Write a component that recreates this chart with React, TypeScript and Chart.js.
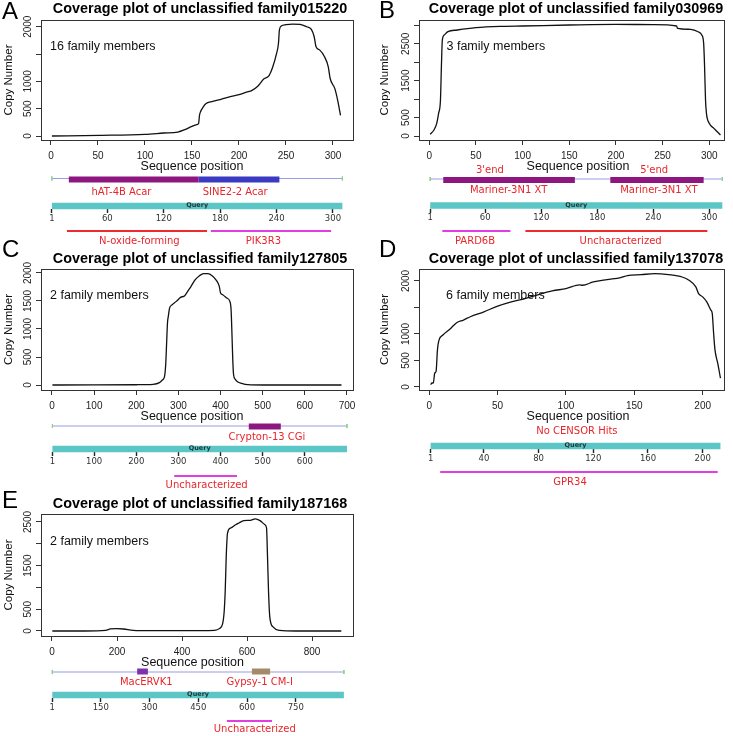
import React, { useEffect, useRef } from 'react';
import { Chart, registerables } from 'chart.js';

Chart.register(...registerables);

/* ======================= DATA ======================= */

// ---- Panel A : unclassified family015220 ----
const titleA = 'Coverage plot of unclassified family015220';
const membersA = '16 family members';
const positionA = [1, 52, 100, 120, 135, 143, 150, 155, 157, 158, 159, 162, 165, 171, 180, 190, 200, 210, 213, 220, 223, 226, 232, 236, 240, 242, 243, 245, 250, 257, 265, 272, 277, 280, 282, 286, 291, 295, 297, 302, 305, 308];
const copyA = [0, 12, 31, 55, 73, 122, 177, 208, 226, 379, 440, 532, 593, 630, 667, 716, 758, 813, 826, 911, 972, 1040, 1107, 1266, 1511, 1694, 1939, 2012, 2037, 2049, 2043, 2000, 1951, 1817, 1633, 1572, 1450, 1266, 1052, 868, 654, 379];
const xTicksA = [0, 50, 100, 150, 200, 250, 300];
const yTicksA = [0, 500, 1000, 1500, 2000];
const yTickLabelsA = ['0', '500', '1000', '', '2000'];
const lengthA = 310;
const censorNameA = ['hAT-4B Acar', 'SINE2-2 Acar'];
const censorStartA = [19, 157];
const censorEndA = [157, 243];
const censorLabelAtA = [75, 196];
const proteinNameA = ['N-oxide-forming', 'PIK3R3'];
const proteinStartA = [17, 170];
const proteinEndA = [166, 298];
const proteinLabelAtA = [94, 226];
const rulerTicksA = [1, 60, 120, 180, 240, 300];

// ---- Panel B : unclassified family030969 ----
const titleB = 'Coverage plot of unclassified family030969';
const membersB = '3 family members';
const positionB = [1, 5, 8, 10, 12, 13, 14, 16, 20, 30, 50, 80, 100, 150, 200, 240, 265, 266, 280, 288, 292, 294, 295, 296, 297, 300, 305, 312];
const copyB = [45, 163, 343, 614, 975, 1879, 2602, 2737, 2827, 2873, 2936, 2972, 2981, 3008, 3026, 3017, 2981, 2918, 2891, 2827, 2737, 2511, 1879, 975, 614, 343, 208, 27];
const xTicksB = [0, 50, 100, 150, 200, 250, 300];
const yTicksB = [0, 500, 1000, 1500, 2000, 2500, 3000];
const yTickLabelsB = ['0', '500', '', '1500', '', '2500', ''];
const lengthB = 314;
const censorNameB = ['Mariner-3N1 XT', 'Mariner-3N1 XT'];
const censorStartB = [15, 194];
const censorEndB = [156, 294];
const censorLabelAtB = [85, 246];
const endNameB = ["3'end", "5'end"];
const endLabelAtB = [65, 241];
const proteinNameB = ['PARD6B', 'Uncharacterized'];
const proteinStartB = [14, 103];
const proteinEndB = [87, 298];
const proteinLabelAtB = [49, 205];
const rulerTicksB = [1, 60, 120, 180, 240, 300];

// ---- Panel C : unclassified family127805 ----
const titleC = 'Coverage plot of unclassified family127805';
const membersC = '2 family members';
const positionC = [1, 100, 200, 240, 255, 262, 267, 270, 272, 274, 276, 279, 285, 295, 305, 315, 322, 330, 340, 350, 360, 370, 380, 390, 397, 400, 405, 415, 422, 425, 427, 429, 431, 435, 440, 450, 465, 500, 600, 687];
const copyC = [0, 2, 5, 12, 42, 90, 150, 388, 746, 1104, 1224, 1373, 1433, 1493, 1564, 1594, 1672, 1761, 1881, 1952, 1988, 1988, 1952, 1869, 1761, 1642, 1612, 1552, 1493, 1343, 925, 448, 179, 101, 60, 30, 6, 0, 0, 0];
const xTicksC = [0, 100, 200, 300, 400, 500, 600, 700];
const yTicksC = [0, 500, 1000, 1500, 2000];
const yTickLabelsC = ['0', '500', '1000', '1500', '2000'];
const lengthC = 700;
const censorNameC = ['Crypton-13 CGi'];
const censorStartC = [467];
const censorEndC = [543];
const censorLabelAtC = [510];
const proteinNameC = ['Uncharacterized'];
const proteinStartC = [290];
const proteinEndC = [439];
const proteinLabelAtC = [367];
const rulerTicksC = [1, 100, 200, 300, 400, 500, 600];

// ---- Panel D : unclassified family137078 ----
const titleD = 'Coverage plot of unclassified family137078';
const membersD = '6 family members';
const positionD = [1, 2, 3, 4, 5, 6, 7, 10, 15, 20, 25, 30, 40, 50, 60, 70, 80, 90, 100, 110, 112, 120, 130, 140, 145, 155, 165, 175, 185, 190, 195, 197, 200, 203, 206, 207, 208, 209, 211, 213];
const copyD = [44, 75, 75, 262, 294, 700, 875, 981, 1088, 1213, 1263, 1325, 1419, 1525, 1606, 1669, 1744, 1813, 1856, 1925, 1919, 1981, 2025, 2063, 2100, 2119, 2138, 2119, 2075, 2013, 1888, 1763, 1700, 1606, 1450, 1388, 1013, 700, 450, 169];
const xTicksD = [0, 50, 100, 150, 200];
const yTicksD = [0, 500, 1000, 1500, 2000];
const yTickLabelsD = ['0', '500', '1000', '', '2000'];
const lengthD = 213;
const noHitsD = 'No CENSOR Hits';
const noHitsAtD = 108;
const proteinNameD = ['GPR34'];
const proteinStartD = [8];
const proteinEndD = [211];
const proteinLabelAtD = [103];
const rulerTicksD = [1, 40, 80, 120, 160, 200];

// ---- Panel E : unclassified family187168 ----
const titleE = 'Coverage plot of unclassified family187168';
const membersE = '2 family members';
const positionE = [1, 100, 165, 180, 200, 220, 250, 300, 400, 500, 515, 525, 530, 533, 536, 540, 550, 565, 575, 590, 610, 625, 640, 655, 660, 663, 666, 670, 680, 700, 750, 890];
const copyE = [0, 0, 15, 46, 54, 46, 15, 8, 8, 15, 54, 169, 477, 938, 1708, 2246, 2362, 2438, 2477, 2531, 2538, 2569, 2531, 2438, 2362, 1708, 938, 323, 92, 15, 0, 0];
const xTicksE = [0, 200, 400, 600, 800];
const yTicksE = [0, 500, 1000, 1500, 2000, 2500];
const yTickLabelsE = ['0', '500', '', '1500', '', '2500'];
const lengthE = 898;
const censorNameE = ['MacERVK1', 'Gypsy-1 CM-I'];
const censorStartE = [262, 615];
const censorEndE = [295, 671];
const censorLabelAtE = [290, 639];
const proteinNameE = ['Uncharacterized'];
const proteinStartE = [538];
const proteinEndE = [677];
const proteinLabelAtE = [624];
const rulerTicksE = [1, 150, 300, 450, 600, 750];

/* ======================= STYLE / LAYOUT ======================= */

const LIB = '"Liberation Sans", Arial, Helvetica, sans-serif';
const DJ = '"DejaVu Sans", Verdana, sans-serif';
const RED = '#e8262b';
const PURPLE = '#8d177f';
const VIOLET = '#7a33ad';
const MAGENTA = '#e23de2';
const LINE_RED = '#ee2a2a';

const layoutA = {
  cov: { x: 0, y: 0, w: 366, h: 178 },
  box: { l: 41, r: 353, t: 20, b: 140 },
  xRange: [-10.6, 321.3], yRange: [-73, 2123],
  letter: [2, 19], title: [200, 12.5], members: [50, 47], seqX: 192, copyDX: -32.5, tickDX: -13,
  track: { x: 0, y: 160, w: 366, h: 92 },
  rows: { censorLine: 178.5, censorBar: 179.5, censorLabel: 192, query: 206, ruler: 209.25, protein: 231, proteinLabel: 241 },
  censorColors: [PURPLE, '#3a3ac2'], proteinColors: [LINE_RED, MAGENTA],
};
const layoutB = {
  cov: { x: 366, y: 0, w: 367, h: 178 },
  box: { l: 419, r: 724, t: 20, b: 140 },
  xRange: [-11.0, 315.8], yRange: [-108, 3144],
  letter: [379, 18], title: [576, 12.5], members: [446.5, 47], seqX: 578, copyDX: -34.5, tickDX: -13,
  track: { x: 366, y: 160, w: 367, h: 92 },
  rows: { endLabel: 170, censorLine: 179, censorBar: 180, censorLabel: 190.5, query: 205.5, ruler: 208.75, protein: 231, proteinLabel: 241 },
  censorColors: [PURPLE, PURPLE], proteinColors: [MAGENTA, LINE_RED],
};
const layoutC = {
  cov: { x: 0, y: 235, w: 366, h: 192 },
  box: { l: 41, r: 353, t: 269, b: 390 },
  xRange: [-26.1, 714.3], yRange: [-89, 2071],
  letter: [2, 257], title: [200, 262.5], members: [50, 296], seqX: 192, copyDX: -32.5, tickDX: -13,
  track: { x: 0, y: 410, w: 366, h: 90 },
  rows: { censorLine: 426, censorBar: 426.5, censorLabel: 437, query: 449, ruler: 452.25, protein: 476, proteinLabel: 485 },
  censorColors: [PURPLE], proteinColors: [MAGENTA],
};
const layoutD = {
  cov: { x: 366, y: 235, w: 367, h: 192 },
  box: { l: 419, r: 724, t: 269, b: 390 },
  xRange: [-7.5, 215.6], yRange: [-57, 2226],
  letter: [379, 257], title: [576, 262.5], members: [446, 296], seqX: 578, copyDX: -34.5, tickDX: -13,
  track: { x: 366, y: 410, w: 367, h: 90 },
  rows: { noHits: 431, query: 446, ruler: 449.25, protein: 472, proteinLabel: 482 },
  censorColors: [], proteinColors: [MAGENTA],
};
const layoutE = {
  cov: { x: 0, y: 480, w: 366, h: 192 },
  box: { l: 41, r: 353, t: 514, b: 636 },
  xRange: [-33.8, 926], yRange: [-115, 2683],
  letter: [2, 508], title: [200, 507.5], members: [50, 541.7], seqX: 192.5, copyDX: -32.5, tickDX: -13,
  track: { x: 0, y: 655, w: 366, h: 81 },
  rows: { censorLine: 672, censorBar: 671.5, censorLabel: 682, query: 695, ruler: 698.25, protein: 721, proteinLabel: 729 },
  censorColors: [VIOLET, '#a58a6a'], proteinColors: [MAGENTA],
};

const PANELS = [
  { d: { letter: 'A', title: titleA, members: membersA, pos: positionA, copy: copyA, xTicks: xTicksA, yTicks: yTicksA, yLabels: yTickLabelsA, length: lengthA,
      censorName: censorNameA, censorStart: censorStartA, censorEnd: censorEndA, censorLabelAt: censorLabelAtA,
      proteinName: proteinNameA, proteinStart: proteinStartA, proteinEnd: proteinEndA, proteinLabelAt: proteinLabelAtA, ruler: rulerTicksA }, L: layoutA },
  { d: { letter: 'B', title: titleB, members: membersB, pos: positionB, copy: copyB, xTicks: xTicksB, yTicks: yTicksB, yLabels: yTickLabelsB, length: lengthB,
      censorName: censorNameB, censorStart: censorStartB, censorEnd: censorEndB, censorLabelAt: censorLabelAtB, endName: endNameB, endLabelAt: endLabelAtB,
      proteinName: proteinNameB, proteinStart: proteinStartB, proteinEnd: proteinEndB, proteinLabelAt: proteinLabelAtB, ruler: rulerTicksB }, L: layoutB },
  { d: { letter: 'C', title: titleC, members: membersC, pos: positionC, copy: copyC, xTicks: xTicksC, yTicks: yTicksC, yLabels: yTickLabelsC, length: lengthC,
      censorName: censorNameC, censorStart: censorStartC, censorEnd: censorEndC, censorLabelAt: censorLabelAtC,
      proteinName: proteinNameC, proteinStart: proteinStartC, proteinEnd: proteinEndC, proteinLabelAt: proteinLabelAtC, ruler: rulerTicksC }, L: layoutC },
  { d: { letter: 'D', title: titleD, members: membersD, pos: positionD, copy: copyD, xTicks: xTicksD, yTicks: yTicksD, yLabels: yTickLabelsD, length: lengthD,
      censorName: [], censorStart: [], censorEnd: [], censorLabelAt: [], noHits: noHitsD, noHitsAt: noHitsAtD,
      proteinName: proteinNameD, proteinStart: proteinStartD, proteinEnd: proteinEndD, proteinLabelAt: proteinLabelAtD, ruler: rulerTicksD }, L: layoutD },
  { d: { letter: 'E', title: titleE, members: membersE, pos: positionE, copy: copyE, xTicks: xTicksE, yTicks: yTicksE, yLabels: yTickLabelsE, length: lengthE,
      censorName: censorNameE, censorStart: censorStartE, censorEnd: censorEndE, censorLabelAt: censorLabelAtE,
      proteinName: proteinNameE, proteinStart: proteinStartE, proteinEnd: proteinEndE, proteinLabelAt: proteinLabelAtE, ruler: rulerTicksE }, L: layoutE },
];

/* ======================= CHART CONFIGS ======================= */

function coverageConfig(d: any, L: any): any {
  const { cov, box } = L;
  const TL = 5;   // tick length
  const XH = 28;  // height reserved for the x axis (ticks + labels)
  const tickGrid = { display: true, drawOnChartArea: false, drawTicks: true, tickLength: TL, color: '#333', lineWidth: 1 };
  const textPlugin = {
    id: 'coverageText',
    afterDraw(chart: any) {
      const ctx = chart.ctx;
      const a = chart.chartArea;
      const ox = cov.x, oy = cov.y;
      ctx.save();
      ctx.strokeStyle = '#333';
      ctx.lineWidth = 1;
      ctx.strokeRect(a.left + 0.5, a.top + 0.5, a.right - a.left, a.bottom - a.top);

      ctx.fillStyle = '#000';
      ctx.textBaseline = 'alphabetic';
      ctx.textAlign = 'left';
      ctx.font = `24px ${LIB}`;
      ctx.fillText(d.letter, L.letter[0] - ox, L.letter[1] - oy);

      ctx.textAlign = 'center';
      ctx.font = `bold 14.4px ${LIB}`;
      ctx.fillText(d.title, L.title[0] - ox, L.title[1] - oy);

      ctx.textBaseline = 'middle';
      ctx.textAlign = 'left';
      ctx.font = `12.5px ${LIB}`;
      ctx.fillStyle = '#111';
      ctx.fillText(d.members, L.members[0] - ox, L.members[1] - oy);

      ctx.textAlign = 'center';
      ctx.fillText('Sequence position', L.seqX - ox, a.bottom + 27);

      ctx.save();
      ctx.font = `11.5px ${LIB}`;
      ctx.translate(a.left + L.copyDX, (a.top + a.bottom) / 2);
      ctx.rotate(-Math.PI / 2);
      ctx.fillText('Copy Number', 0, 0);
      ctx.restore();

      const ys = chart.scales.y;
      ctx.font = `10px ${LIB}`;
      ctx.fillStyle = '#222';
      ys.ticks.forEach((t: any) => {
        const idx = d.yTicks.indexOf(t.value);
        const lab = idx >= 0 ? d.yLabels[idx] : '';
        if (!lab) return;
        ctx.save();
        ctx.translate(a.left + L.tickDX, ys.getPixelForValue(t.value));
        ctx.rotate(-Math.PI / 2);
        ctx.fillText(lab, 0, 0);
        ctx.restore();
      });
      ctx.restore();
    },
  };
  return {
    type: 'line',
    data: {
      datasets: [{
        data: d.pos.map((x: number, i: number) => ({ x, y: d.copy[i] })),
        borderColor: '#111', borderWidth: 1.3, pointRadius: 0, pointHoverRadius: 0,
        fill: false, cubicInterpolationMode: 'monotone',
      }],
    },
    options: {
      animation: false, responsive: false, devicePixelRatio: 1, events: [],
      layout: { padding: { left: box.l - cov.x - TL, right: cov.x + cov.w - box.r, top: box.t - cov.y, bottom: cov.y + cov.h - box.b - XH } },
      plugins: { legend: { display: false }, tooltip: { enabled: false }, title: { display: false } },
      scales: {
        x: {
          type: 'linear', position: 'bottom', min: L.xRange[0], max: L.xRange[1],
          afterBuildTicks: (s: any) => { s.ticks = d.xTicks.map((v: number) => ({ value: v })); },
          afterFit: (s: any) => { s.height = XH; s.paddingLeft = 0; s.paddingRight = 0; },
          grid: tickGrid, border: { display: false },
          ticks: { autoSkip: false, maxRotation: 0, minRotation: 0, padding: 5, color: '#222', font: { family: LIB, size: 10 }, callback: (v: any) => String(v) },
        },
        y: {
          type: 'linear', position: 'left', min: L.yRange[0], max: L.yRange[1],
          afterBuildTicks: (s: any) => { s.ticks = d.yTicks.map((v: number) => ({ value: v })); },
          afterFit: (s: any) => { s.width = TL; s.paddingTop = 0; s.paddingBottom = 0; },
          grid: tickGrid, border: { display: false },
          ticks: { display: false },
        },
      },
    },
    plugins: [textPlugin],
  };
}

function trackConfig(d: any, L: any): any {
  const { track, box, rows } = L;
  const rv = (pageY: number) => pageY - track.y;
  const seg = (x0: number, x1: number, y0: number, y1: number, color: string, width: number, order = 0) => ({
    data: [{ x: x0, y: rv(y0) }, { x: x1, y: rv(y1) }],
    borderColor: color, borderWidth: width, borderCapStyle: 'butt',
    pointRadius: 0, pointHoverRadius: 0, fill: false, order,
  });
  const ds: any[] = [];
  if (d.censorName.length) {
    ds.push(seg(1, d.length, rows.censorLine, rows.censorLine, '#9c9ce6', 1.2, 5));
    ds.push(seg(1, 1, rows.censorLine - 2, rows.censorLine + 2, '#8fd08f', 1, 4));
    ds.push(seg(d.length, d.length, rows.censorLine - 2, rows.censorLine + 2, '#8fd08f', 1, 4));
    d.censorName.forEach((_: string, i: number) =>
      ds.push(seg(d.censorStart[i], d.censorEnd[i], rows.censorBar, rows.censorBar, L.censorColors[i], 6)));
  }
  ds.push(seg(1, d.length, rows.query, rows.query, '#5cc6c6', 6.5));
  d.proteinName.forEach((_: string, i: number) =>
    ds.push(seg(d.proteinStart[i], d.proteinEnd[i], rows.protein, rows.protein, L.proteinColors[i], 2.2)));

  const labelPlugin = {
    id: 'trackLabels',
    afterDraw(chart: any) {
      const ctx = chart.ctx;
      const xs = chart.scales.x, ys = chart.scales.y;
      const put = (text: string, at: number, pageY: number) =>
        ctx.fillText(text, xs.getPixelForValue(at), ys.getPixelForValue(rv(pageY)));
      ctx.save();
      ctx.textAlign = 'center';
      ctx.textBaseline = 'middle';
      ctx.fillStyle = RED;
      ctx.font = `10px ${DJ}`;
      d.censorName.forEach((n: string, i: number) => put(n, d.censorLabelAt[i], rows.censorLabel));
      if (d.endName) d.endName.forEach((n: string, i: number) => put(n, d.endLabelAt[i], rows.endLabel));
      if (d.noHits) put(d.noHits, d.noHitsAt, rows.noHits);
      d.proteinName.forEach((n: string, i: number) => put(n, d.proteinLabelAt[i], rows.proteinLabel));
      ctx.fillStyle = '#1c3535';
      ctx.font = `bold 6.5px ${DJ}`;
      put('Query', (1 + d.length) / 2, rows.query - 0.5);
      ctx.restore();
    },
  };

  return {
    type: 'line',
    data: { datasets: ds },
    options: {
      animation: false, responsive: false, devicePixelRatio: 1, events: [],
      layout: { padding: { left: box.l - track.x, right: track.x + track.w - box.r, top: 0, bottom: 0 } },
      plugins: { legend: { display: false }, tooltip: { enabled: false }, title: { display: false } },
      scales: {
        x: {
          type: 'linear', min: L.xRange[0], max: L.xRange[1], position: { y: rv(rows.ruler) },
          afterBuildTicks: (s: any) => { s.ticks = d.ruler.map((v: number) => ({ value: v })); },
          afterFit: (s: any) => { s.paddingLeft = 0; s.paddingRight = 0; },
          grid: { display: true, drawOnChartArea: false, drawTicks: true, tickLength: 4, color: '#222', tickWidth: 1.4 },
          border: { display: false },
          ticks: { autoSkip: false, maxRotation: 0, minRotation: 0, padding: 0, color: '#333', font: { family: DJ, size: 8.5 }, callback: (v: any) => String(v) },
        },
        y: { type: 'linear', min: 0, max: track.h, reverse: true, display: false },
      },
    },
    plugins: [labelPlugin],
  };
}

/* ======================= COMPONENTS ======================= */

function ChartCanvas({ rect, make }: { rect: any; make: (c: HTMLCanvasElement) => Chart }) {
  const ref = useRef<HTMLCanvasElement>(null);
  useEffect(() => {
    if (!ref.current) return;
    const chart = make(ref.current);
    return () => chart.destroy();
  }, []);
  return (
    <canvas
      ref={ref}
      width={rect.w}
      height={rect.h}
      style={{ position: 'absolute', left: rect.x, top: rect.y, width: rect.w, height: rect.h }}
    />
  );
}

export default function App() {
  return (
    <div style={{ position: 'absolute', left: 0, top: 0, width: 733, height: 736, background: '#fff', overflow: 'hidden' }}>
      {PANELS.map((p) => (
        <React.Fragment key={p.d.letter}>
          <ChartCanvas rect={p.L.cov} make={(c) => new Chart(c, coverageConfig(p.d, p.L))} />
          <ChartCanvas rect={p.L.track} make={(c) => new Chart(c, trackConfig(p.d, p.L))} />
        </React.Fragment>
      ))}
    </div>
  );
}
